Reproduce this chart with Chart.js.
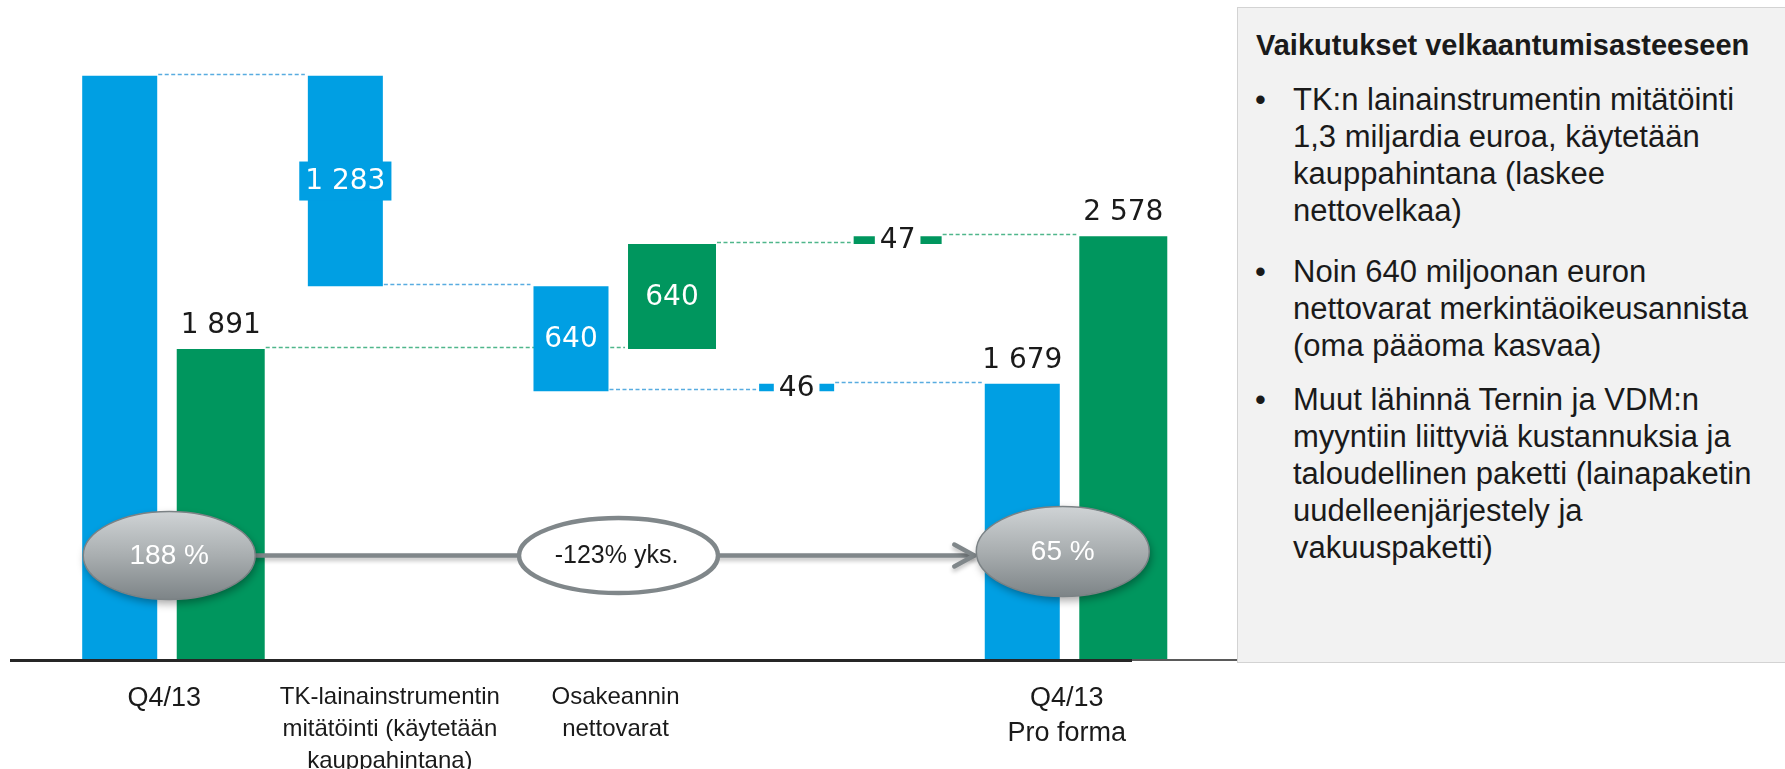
<!DOCTYPE html>
<html lang="fi">
<head>
<meta charset="utf-8">
<title>Vaikutukset velkaantumisasteeseen</title>
<script src="https://cdn.jsdelivr.net/npm/chart.js@4.4.1/dist/chart.umd.min.js"></script>
<style>
  html, body { margin:0; padding:0; background:#ffffff; }
  body { width:1785px; height:769px; position:relative; overflow:hidden; }
  #chartBox { position:absolute; left:0; top:0; width:1237px; height:769px; }
  #panel { position:absolute; left:1237px; top:7px; width:600px; height:654px; background:#f2f2f2;
           border:1px solid #d3d3d3; font-family:"Liberation Sans", Arial, sans-serif; color:#1a1a1a; }
  #panel h2 { margin:0; position:absolute; left:18px; top:19px; font-size:29px; line-height:37.5px;
              font-weight:bold; white-space:nowrap; }
  .item { position:absolute; left:0; font-size:31px; line-height:37px; white-space:nowrap; }
  .item .dot { position:absolute; left:17px; top:0; }
  .item .txt { position:absolute; left:55px; top:0; }
</style>
</head>
<body>
<div id="chartBox"><canvas id="c"></canvas></div>
<div id="panel">
  <h2>Vaikutukset velkaantumisasteeseen</h2>
  <div class="item" style="top:72.5px"><span class="dot">•</span><span class="txt">TK:n lainainstrumentin mitätöinti<br>1,3 miljardia euroa, käytetään<br>kauppahintana (laskee<br>nettovelkaa)</span></div>
  <div class="item" style="top:245px"><span class="dot">•</span><span class="txt">Noin 640 miljoonan euron<br>nettovarat merkintäoikeusannista<br>(oma pääoma kasvaa)</span></div>
  <div class="item" style="top:372.5px"><span class="dot">•</span><span class="txt">Muut lähinnä Ternin ja VDM:n<br>myyntiin liittyviä kustannuksia ja<br>taloudellinen paketti (lainapaketin<br>uudelleenjärjestely ja<br>vakuuspaketti)</span></div>
</div>
<script>
// ---- data ----
const categories = [
  'Q4/13',
  ['TK-lainainstrumentin', 'mitätöinti (käytetään', 'kauppahintana)'],
  ['Osakeannin', 'nettovarat'],
  '',
  ['Q4/13', 'Pro forma']
];
const netDebtFrom = [0, 2273, 1633, 1633, 0];
const netDebtTo   = [3556, 3556, 2273, 1679, 1679];
const equityFrom  = [0, null, 1891, 2531, 0];
const equityTo    = [1891, null, 2531, 2578, 2578];
const netDebtLabels = ['', '1 283', '640', '46', '1 679'];
const equityLabels  = ['1 891', '', '640', '47', '2 578'];
const gearingLabels = ['188 %', '-123% yks.', '65 %'];

// ---- styles ----
const labelModeNetDebt = ['none', 'box', 'inside', 'gap', 'above'];
const labelModeEquity  = ['above', 'none', 'inside', 'gap', 'above'];
const BLUE = '#009FE3', GREEN = '#00965E';
const BLUE_DASH = '#58ace0', GREEN_DASH = '#4fb68b';
const GREY = '#80878a';

function pairs(from, to) {
  return from.map((v, i) => (v === null || to[i] === null) ? null : [v, to[i]]);
}

const series = [
  { from: netDebtFrom, to: netDebtTo, labels: netDebtLabels, modes: labelModeNetDebt, color: BLUE, dash: BLUE_DASH },
  { from: equityFrom, to: equityTo, labels: equityLabels, modes: labelModeEquity, color: GREEN, dash: GREEN_DASH }
];

const waterfallPlugin = {
  id: 'waterfall',
  beforeDatasetsDraw(chart) {
    const ctx = chart.ctx, ys = chart.scales.y;
    series.forEach((s, di) => {
      const meta = chart.getDatasetMeta(di);
      const idx = s.from.map((v, i) => v === null ? -1 : i).filter(i => i >= 0);
      for (let k = 0; k < idx.length - 1; k++) {
        const i = idx[k], j = idx[k + 1];
        const a = [s.from[i], s.to[i]], b = [s.from[j], s.to[j]];
        const level = a.find(v => v !== 0 && b.includes(v));
        if (level === undefined) continue;
        const ei = meta.data[i], ej = meta.data[j];
        const x1 = ei.x + ei.width / 2 + 1, x2 = ej.x - ej.width / 2 - 3;
        const py = Math.round(ys.getPixelForValue(level)) - 1.5;
        ctx.save();
        ctx.strokeStyle = s.dash; ctx.lineWidth = 1.5; ctx.setLineDash([4, 2.5]);
        ctx.beginPath(); ctx.moveTo(x1, py); ctx.lineTo(x2, py); ctx.stroke();
        ctx.restore();
      }
    });
  },
  afterDatasetsDraw(chart) {
    const ctx = chart.ctx, ys = chart.scales.y;
    ctx.save();
    ctx.font = '28px "DejaVu Sans"';
    ctx.textAlign = 'center';
    series.forEach((s, di) => {
      const meta = chart.getDatasetMeta(di);
      s.labels.forEach((txt, i) => {
        const mode = s.modes[i];
        if (!txt || mode === 'none') return;
        const el = meta.data[i];
        const top = Math.min(el.y, el.base), bottom = Math.max(el.y, el.base);
        const cx = el.x, mid = (top + bottom) / 2;
        const w = ctx.measureText(txt).width;
        if (mode === 'above') {
          ctx.textBaseline = 'alphabetic';
          ctx.fillStyle = '#1a1a1a';
          ctx.fillText(txt, cx, top - 16);
        } else if (mode === 'box') {
          ctx.fillStyle = s.color;
          ctx.fillRect(cx - w / 2 - 6, mid - 19.5, w + 12, 39);
          ctx.textBaseline = 'middle';
          ctx.fillStyle = '#ffffff';
          ctx.fillText(txt, cx, mid + 1);
        } else if (mode === 'inside') {
          ctx.textBaseline = 'middle';
          ctx.fillStyle = '#ffffff';
          ctx.fillText(txt, cx, mid + 1);
        } else if (mode === 'gap') {
          ctx.fillStyle = '#ffffff';
          ctx.fillRect(cx - w / 2 - 5, mid - 14, w + 10, 28);
          ctx.textBaseline = 'middle';
          ctx.fillStyle = '#1a1a1a';
          ctx.fillText(txt, cx, mid + 1);
        }
      });
    });
    // baseline (axis line)
    const y0 = ys.getPixelForValue(0);
    ctx.fillStyle = '#262626';
    ctx.fillRect(10, y0, 1122, 3);
    ctx.fillStyle = '#5a5a5a';
    ctx.fillRect(1132, y0, chart.width - 1132, 2);
    ctx.restore();
  },
  afterDraw(chart) {
    const ctx = chart.ctx, xs = chart.scales.x, ys = chart.scales.y;
    const cy = ys.getPixelForValue(0) - 103.5;
    const cxA = xs.getPixelForValue(0) - 1;
    const cxB = xs.getPixelForValue(2) - 3;
    const cxC = xs.getPixelForValue(4) - 10;
    const rA = [86, 44], rB = [99.5, 37.5], rC = [86.5, 45];
    const cyC = cy - 4;
    // arrow line
    ctx.save();
    ctx.shadowColor = 'rgba(0,0,0,0.25)'; ctx.shadowBlur = 4; ctx.shadowOffsetY = 3;
    ctx.strokeStyle = GREY; ctx.lineWidth = 4.5; ctx.lineCap = 'round'; ctx.lineJoin = 'round';
    const tipX = cxC - rC[0] - 2;
    ctx.beginPath(); ctx.moveTo(cxA + rA[0], cy); ctx.lineTo(tipX, cy); ctx.stroke();
    ctx.beginPath(); ctx.moveTo(tipX - 20, cy - 11); ctx.lineTo(tipX, cy); ctx.lineTo(tipX - 20, cy + 11); ctx.stroke();
    ctx.restore();
    // middle ellipse
    ctx.save();
    ctx.beginPath(); ctx.ellipse(cxB, cy, rB[0], rB[1], 0, 0, Math.PI * 2);
    ctx.fillStyle = '#ffffff'; ctx.fill();
    ctx.lineWidth = 4.5; ctx.strokeStyle = GREY; ctx.stroke();
    ctx.fillStyle = '#1a1a1a'; ctx.font = '25px "Liberation Sans"';
    ctx.textAlign = 'center'; ctx.textBaseline = 'middle';
    ctx.fillText(gearingLabels[1], cxB - 2, cy + 1);
    ctx.restore();
    // badges
    const badge = (cx, cyy, r, text) => {
      ctx.save();
      ctx.shadowColor = 'rgba(0,0,0,0.35)'; ctx.shadowBlur = 8; ctx.shadowOffsetX = 2; ctx.shadowOffsetY = 4;
      const g = ctx.createLinearGradient(0, cyy - r[1], 0, cyy + r[1]);
      g.addColorStop(0, '#cfd3d5'); g.addColorStop(0.5, '#a9aeb0'); g.addColorStop(1, '#7d8487');
      ctx.beginPath(); ctx.ellipse(cx, cyy, r[0], r[1], 0, 0, Math.PI * 2);
      ctx.fillStyle = g; ctx.fill();
      ctx.restore();
      ctx.save();
      ctx.beginPath(); ctx.ellipse(cx, cyy, r[0], r[1], 0, 0, Math.PI * 2);
      ctx.lineWidth = 1.5; ctx.strokeStyle = '#7b8285'; ctx.stroke();
      ctx.fillStyle = '#ffffff'; ctx.font = '28px "Liberation Sans"';
      ctx.textAlign = 'center'; ctx.textBaseline = 'middle';
      ctx.fillText(text, cx, cyy + 1);
      ctx.restore();
    };
    badge(cxA, cy, rA, gearingLabels[0]);
    badge(cxC, cyC, rC, gearingLabels[2]);
  }
};

Chart.defaults.font.family = '"Liberation Sans", Arial, sans-serif';

new Chart(document.getElementById('c'), {
  type: 'bar',
  data: {
    labels: categories,
    datasets: [
      { label: 'Nettovelka', data: pairs(netDebtFrom, netDebtTo), backgroundColor: BLUE,
        barPercentage: 0.7426, categoryPercentage: 0.8954, borderWidth: 0 },
      { label: 'Oma pääoma', data: pairs(equityFrom, equityTo), backgroundColor: GREEN,
        barPercentage: 0.871, categoryPercentage: 0.8954, borderWidth: 0 }
    ]
  },
  options: {
    responsive: true,
    maintainAspectRatio: false,
    animation: false,
    layout: { padding: { left: 57.4, right: 51.4, top: 3, bottom: 0 } },
    plugins: { legend: { display: false }, tooltip: { enabled: false } },
    scales: {
      x: {
        grid: { display: false, drawTicks: false },
        border: { display: false },
        afterFit: (scale) => { scale.height = 110; },
        ticks: {
          color: '#1a1a1a',
          autoSkip: false, maxRotation: 0, minRotation: 0,
          padding: 22,
          labelOffset: -6,
          crossAlign: 'near',
          font: (c) => (c.index === 0 || c.index === 4)
            ? { family: '"Liberation Sans", Arial, sans-serif', size: 27, lineHeight: '35px' }
            : { family: '"Liberation Sans", Arial, sans-serif', size: 24, lineHeight: '32px' }
        }
      },
      y: { display: false, min: 0, max: 4000 }
    }
  },
  plugins: [waterfallPlugin]
});
</script>
</body>
</html>
